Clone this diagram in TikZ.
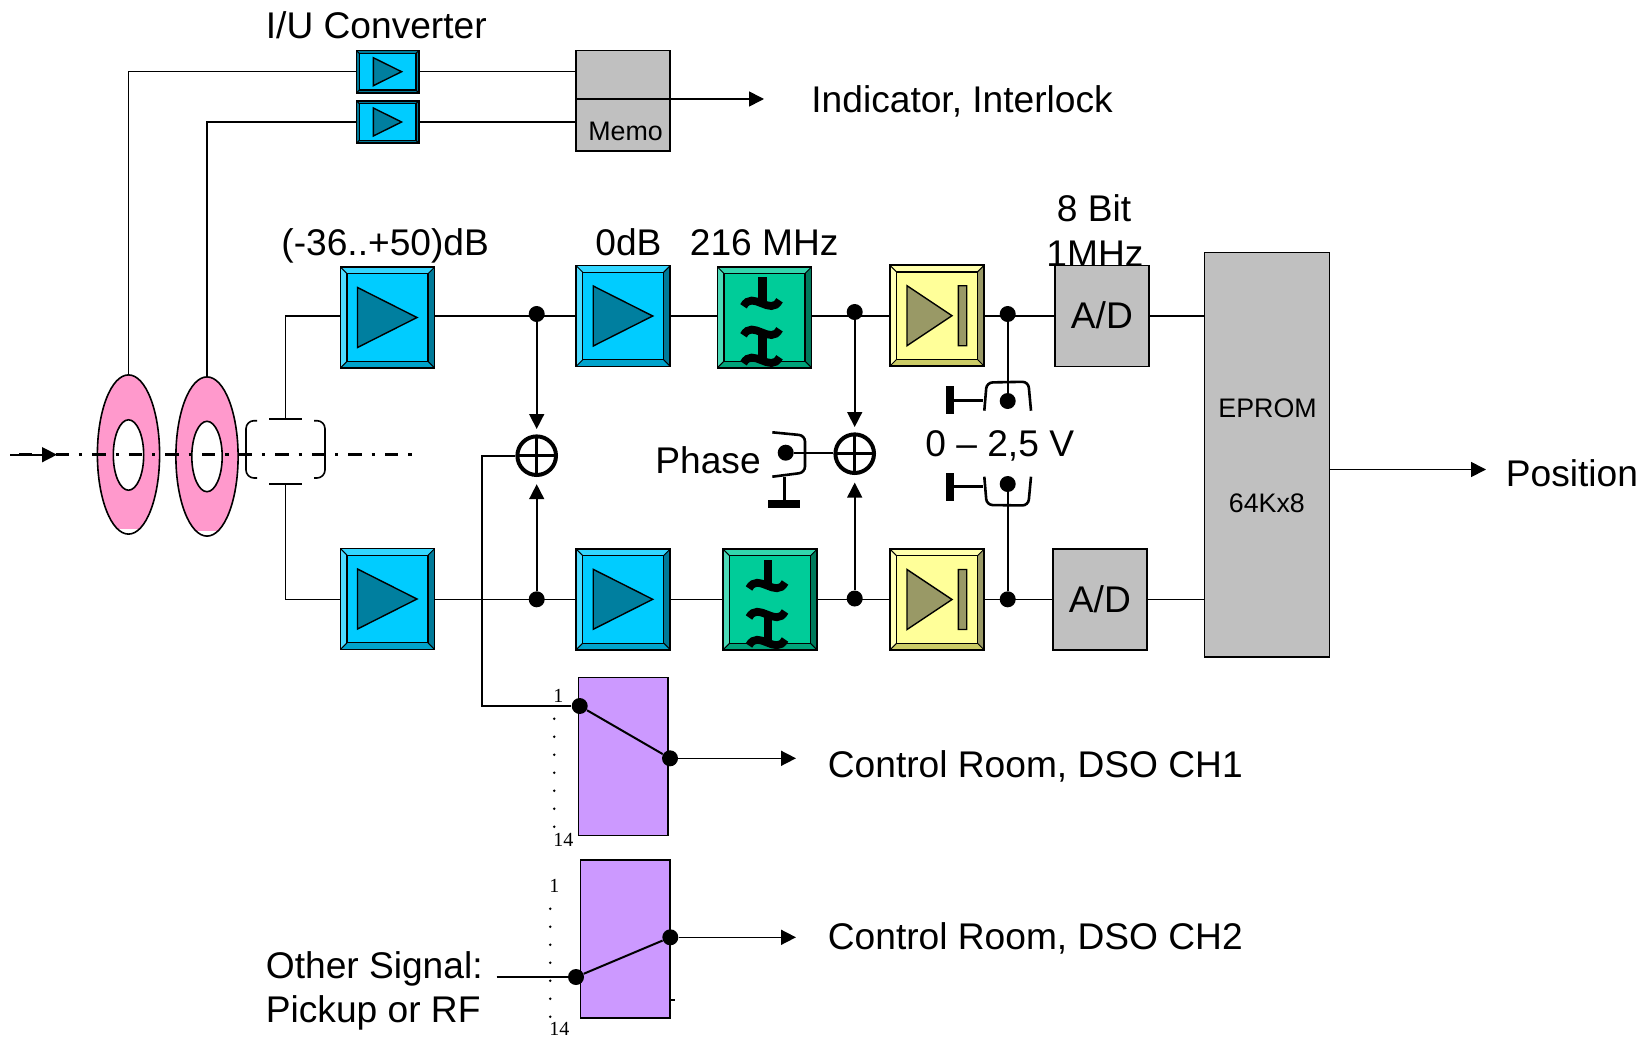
\documentclass[tikz,border=0pt]{standalone}
\usepackage{fontspec}
\setmainfont{Liberation Sans}
\newfontfamily\numfont{Liberation Serif}
\usetikzlibrary{shapes.geometric,arrows.meta,calc}

\definecolor{ampface}{HTML}{00CCFF}
\definecolor{ampleft}{HTML}{4DDBFF}
\definecolor{amptop}{HTML}{33D6FF}
\definecolor{ampright}{HTML}{007A99}
\definecolor{ampbottom}{HTML}{00A3CC}
\definecolor{ampmark}{HTML}{007F9F}
\definecolor{filtface}{HTML}{00CC99}
\definecolor{filtleft}{HTML}{4DDBB8}
\definecolor{filttop}{HTML}{33D6AD}
\definecolor{filtright}{HTML}{007A5C}
\definecolor{filtbottom}{HTML}{00A37A}
\definecolor{detface}{HTML}{FFFF99}
\definecolor{detleft}{HTML}{FFFFB8}
\definecolor{dettop}{HTML}{FFFFAD}
\definecolor{detright}{HTML}{999966}
\definecolor{detbottom}{HTML}{CCCC66}
\definecolor{detmark}{HTML}{999966}
\definecolor{ringpink}{HTML}{FF99CC}
\definecolor{muxviolet}{HTML}{CC99FF}
\definecolor{boxgray}{HTML}{C0C0C0}

\newcommand{\bevelfaces}[5]{%
  \coordinate (bnw) at ([shift={(#5,-#5)}]path picture bounding box.north west);
  \coordinate (bne) at ([shift={(-#5,-#5)}]path picture bounding box.north east);
  \coordinate (bsw) at ([shift={(#5,#5)}]path picture bounding box.south west);
  \coordinate (bse) at ([shift={(-#5,#5)}]path picture bounding box.south east);
  \fill[#1] (path picture bounding box.north west) -- (bnw) -- (bsw) -- (path picture bounding box.south west) -- cycle;
  \fill[#2] (path picture bounding box.north west) -- (bnw) -- (bne) -- (path picture bounding box.north east) -- cycle;
  \fill[#3] (path picture bounding box.north east) -- (bne) -- (bse) -- (path picture bounding box.south east) -- cycle;
  \fill[#4] (path picture bounding box.south west) -- (bsw) -- (bse) -- (path picture bounding box.south east) -- cycle;
  \draw[line width=.6pt] (bnw) rectangle (bse);
  \draw[line width=.5pt] (path picture bounding box.north west) -- (bnw) (path picture bounding box.north east) -- (bne)
    (path picture bounding box.south west) -- (bsw) (path picture bounding box.south east) -- (bse);
}
\newcommand{\filtglyph}{%
  \begin{scope}[shift={(path picture bounding box.center)},x=.5pt,y=-.5pt]
    \fill[black] (-6.5,-40) rectangle (2,-12);
    \fill[black] (-6.5,15) rectangle (2,45);
    \draw[line width=3.9pt] (-21,-11) .. controls (-12,-28) and (6,0) .. (15,-17);
    \draw[line width=3.9pt] (-21,18) .. controls (-12,1) and (6,29) .. (15,12);
    \draw[line width=3.9pt] (-21,46) .. controls (-12,29) and (6,57) .. (15,40);
  \end{scope}}

\tikzset{
  sig/.style={line width=.8pt},
  arr/.style={sig,-{Triangle[length=7.5pt,width=7.5pt]}},
  stem/.style={line width=1.3pt},
  blockbox/.style={draw,line width=.85pt,inner sep=0pt,minimum width=47.1pt,minimum height=50.4pt},
  ampbox/.style={blockbox,fill=ampface,path picture={
    \bevelfaces{ampleft}{amptop}{ampright}{ampbottom}{3.3pt}
    \draw[shift={(path picture bounding box.center)},x=.5pt,y=-.5pt,fill=ampmark,line width=.7pt]
      (-30,-30) -- (29.5,0) -- (-30,30) -- cycle;}},
  iubox/.style={draw,line width=.85pt,inner sep=0pt,fill=ampface,minimum width=31.2pt,minimum height=21.2pt,path picture={
    \bevelfaces{ampright}{ampright}{ampright}{ampright}{1.4pt}
    \draw[shift={(path picture bounding box.center)},x=.5pt,y=-.5pt,fill=ampmark,line width=.7pt]
      (-14.3,-14) -- (14,0) -- (-14.3,14) -- cycle;}},
  filtbox/.style={blockbox,fill=filtface,path picture={
    \bevelfaces{filtleft}{filttop}{filtright}{filtbottom}{3.3pt}
    \filtglyph}},
  detbox/.style={blockbox,fill=detface,path picture={
    \bevelfaces{detleft}{dettop}{detright}{detbottom}{3.3pt}
    \draw[shift={(path picture bounding box.center)},x=.5pt,y=-.5pt,fill=detmark,line width=.7pt]
      (-30,-30) -- (15,0) -- (-30,30) -- cycle (21.3,-30) rectangle (29.7,30);}},
  adbox/.style={blockbox,fill=boxgray},
  muxbox/.style={draw,line width=.85pt,fill=muxviolet,inner sep=0pt,minimum width=44.8pt,minimum height=78.9pt},
  ringnode/.style={ellipse,draw,line width=.8pt,fill=ringpink,inner sep=0pt,minimum width=31.1pt,minimum height=79.6pt,path picture={
    \fill[white] ([yshift=2.6pt]path picture bounding box.south west) rectangle (path picture bounding box.south east);}},
  holenode/.style={ellipse,draw,line width=.8pt,fill=white,inner sep=0pt,minimum width=15.2pt,minimum height=35.2pt},
  jdot/.style={circle,fill=black,inner sep=0pt,minimum size=8pt},
  sumnode/.style={circle,draw,line width=2pt,fill=white,inner sep=0pt,minimum size=19.3pt,path picture={
    \draw[line width=1.6pt] (path picture bounding box.north) -- (path picture bounding box.south)
      (path picture bounding box.west) -- (path picture bounding box.east);}},
  lbl/.style={anchor=base west,inner sep=0pt,font=\fontsize{18.57}{22}\selectfont},
  smalllbl/.style={anchor=base west,inner sep=0pt,font=\fontsize{13.4}{16}\selectfont},
  numlbl/.style={anchor=base west,inner sep=0pt,font=\numfont\fontsize{10}{12}\selectfont},
}

\begin{document}
\begin{tikzpicture}[x=.5pt,y=-.5pt]
  \useasboundingbox (0,0) rectangle (1647,1038);
  \coordinate (row1) at (0,316);
  \coordinate (row2) at (0,599.3);

  %labels
  \node[lbl] (lIU) at (265.5,38.5) {I/U Converter};
  \node[lbl] (lInd) at (811,112.5) {Indicator, Interlock};
  \node[lbl] (lGain) at (281,255) {(-36..+50)dB};
  \node[lbl] (lZero) at (595,255) {0dB};
  \node[lbl] (lFreq) at (689.5,255) {216 MHz};
  \node[lbl] (lBit) at (1056.5,221.5) {8 Bit};
  \node[lbl] (lRate) at (1046,266.5) {1MHz};
  \node[lbl] (lPhase) at (655,473.3) {Phase};
  \node[lbl] (lVolt) at (925,456.7) {0 -- 2,5 V};
  \node[lbl] (lPos) at (1505.5,486) {Position};
  \node[lbl] (lCh1) at (827.5,777) {Control Room, DSO CH1};
  \node[lbl] (lCh2) at (827.5,949.5) {Control Room, DSO CH2};
  \node[lbl] (lOth) at (265.5,978) {Other Signal:};
  \node[lbl] (lPick) at (265.5,1022.5) {Pickup or RF};

  %rings and pickup
  \node[ringnode] (ring1) at (128.5,454.5) {};
  \node[holenode] (hole1) at (128.5,455) {};
  \node[ringnode] (ring2) at (207,456.5) {};
  \node[holenode] (hole2) at (207,456.5) {};
  \coordinate (pickT) at (285.3,418.7);
  \coordinate (pickB) at (285.3,483.7);
  \draw[sig] (269,418.7) -- (302,418.7);
  \draw[sig] (269,483.7) -- (302,483.7);
  \draw[sig,rounded corners=4pt] (257,420.7) -- (246,420.7) -- (246,478) -- (257,478);
  \draw[sig,rounded corners=4pt] (314,420.7) -- (325,420.7) -- (325,478) -- (314,478);

  %beam
  \coordinate (beamL) at (10,454.7);
  \coordinate (beamA) at (57,454.7);
  \coordinate (beamS) at (19,454.7);
  \coordinate (beamE) at (412,454.7);
  \draw[line width=1.35pt,dash pattern=on 6.65pt off 5pt on 1.65pt off 5pt] (beamS) -- (beamE);
  \draw[arr] (beamL) -- (beamA);

  %blocks
  \node[ampbox] (amp1) at (387.5,317.5) {};
  \node[ampbox] (amp2) at (387.5,599) {};
  \node[ampbox] (amp3) at (623.2,316) {};
  \node[ampbox] (amp4) at (623.2,599.3) {};
  \node[filtbox] (filt1) at (764.5,317.3) {};
  \node[filtbox] (filt2) at (770,599.5) {};
  \node[detbox] (det1) at (937,315.7) {};
  \node[detbox] (det2) at (937,599.5) {};
  \node[adbox] (ad1) at (1102,316) {};
  \node[adbox] (ad2) at (1100,599.5) {};
  \node[lbl] (lAd1) at (1070.5,328.3) {A/D};
  \node[lbl] (lAd2) at (1068.5,612.3) {A/D};
  \node[draw,line width=.85pt,fill=boxgray,inner sep=0pt,minimum width=62.6pt,minimum height=202.3pt] (eprom) at (1267,454.8) {};
  \node[smalllbl] (lEprom) at (1218,417) {EPROM};
  \node[smalllbl] (lSize) at (1228.5,512.5) {64Kx8};
  \node[iubox] (iu1) at (387.6,71.7) {};
  \node[iubox] (iu2) at (387.6,122) {};
  \node[draw,line width=.85pt,fill=boxgray,inner sep=0pt,minimum width=46.9pt,minimum height=50.2pt] (memo) at (623,100.6) {};
  \node[smalllbl] (lMemo) at (588,140.5) {Memo};
  \node[muxbox] (mux1) at (623.2,756.5) {};
  \node[muxbox] (mux2) at (625.4,939.2) {};

  %junctions
  \node[jdot] (j1) at (536.7,314) {};
  \node[jdot] (j2) at (536.7,599.3) {};
  \node[jdot] (j3) at (854.7,312) {};
  \node[jdot] (j4) at (854.7,598.5) {};
  \node[jdot] (j5) at (1007.7,314) {};
  \node[jdot] (j6) at (1007.7,599.3) {};
  \node[jdot] (j7) at (1007.7,401) {};
  \node[jdot] (j8) at (1007.7,484) {};
  \node[jdot] (j9) at (785.7,452.7) {};
  \node[sumnode] (sum1) at (536.7,455.7) {};
  \node[sumnode] (sum2) at (854.7,453.7) {};
  \node[jdot] (m1a) at (579.7,706) {};
  \node[jdot] (m1b) at (670,758.3) {};
  \node[jdot] (m2a) at (576,977) {};
  \node[jdot] (m2b) at (670.3,937.3) {};

  %top branch
  \draw[sig] (ring1.north) |- (iu1.west);
  \draw[sig] (ring2.north) |- (iu2.west);
  \draw[sig] (iu1.east) -- (memo.west |- iu1);
  \draw[sig] (iu2.east) -- (memo.west |- iu2);
  \coordinate (div) at (0,99);
  \coordinate (outInd) at (764,99);
  \draw[sig] (memo.west |- div) -- (memo.east |- div);
  \draw[arr] (memo.east |- div) -- (outInd);

  %signal rows
  \draw[sig] (pickT) |- (amp1.west |- row1);
  \draw[sig] (pickB) |- (amp2.west |- row2);
  \draw[sig] (amp1.east |- row1) -- (amp3.west |- row1);
  \draw[sig] (amp2.east |- row2) -- (amp4.west |- row2);
  \draw[sig] (amp3.east |- row1) -- (filt1.west |- row1);
  \draw[sig] (amp4.east |- row2) -- (filt2.west |- row2);
  \draw[sig] (filt1.east |- row1) -- (det1.west |- row1);
  \draw[sig] (filt2.east |- row2) -- (det2.west |- row2);
  \draw[sig] (det1.east |- row1) -- (ad1.west |- row1);
  \draw[sig] (det2.east |- row2) -- (ad2.west |- row2);
  \draw[sig] (ad1.east |- row1) -- (eprom.west |- row1);
  \draw[sig] (ad2.east |- row2) -- (eprom.west |- row2);
  \coordinate (outPos) at (1486,469.5);
  \draw[arr] (eprom.east |- outPos) -- (outPos);

  %sums
  \draw[arr,shorten >=2.7pt] (j1) -- (sum1.north);
  \draw[arr,shorten >=3.6pt] (j2) -- (sum1.south);
  \draw[arr,shorten >=2.7pt] (j3) -- (sum2.north);
  \draw[arr,shorten >=3.8pt] (j4) -- (sum2.south);
  \draw[sig] (j9) -- (sum2.west |- j9);
  \draw[sig] (j5) -- (j7);
  \draw[sig] (j6) -- (j8);

  %pots
  \fill (946,386) rectangle (954,414);
  \draw[stem] (954,400.3) -- (983,400.3);
  \draw[stem,rounded corners=3pt] (984.3,410.7) -- (986.7,382.5) -- (1028.3,381.7) -- (1031,410.7);
  \fill (946,473) rectangle (954,501);
  \draw[stem] (954,486.7) -- (983,486.7);
  \draw[stem,rounded corners=3pt] (984.3,476.7) -- (986.7,505) -- (1028.3,505.5) -- (1031,476.7);
  \fill (768,500) rectangle (799.7,507.7);
  \draw[stem] (784.3,477) -- (784.3,500);
  \draw[stem,rounded corners=3pt] (772.3,432.3) -- (805,435.5) -- (805,472.5) -- (772.3,476.7);

  %switches
  \coordinate (tap) at (482,600);
  \coordinate (tick) at (675,1000);
  \coordinate (othIn) at (496.7,977);
  \coordinate (outCh1) at (796,758.3);
  \coordinate (outCh2) at (796,937.3);
  \draw[sig] (sum1.west) -| (tap) |- (m1a);
  \draw[sig,line width=1pt] (m1a) -- (m1b);
  \draw[sig,line width=1pt] (m2a) -- (m2b);
  \draw[sig] (othIn) -- (m2a);
  \draw[arr] (m1b) -- (outCh1);
  \draw[arr] (m2b) -- (outCh2);
  \draw[sig] (mux2.east |- tick) -- (tick);
  \foreach \n in {0,...,6} {
    \fill (554.3,718.7+18*\n) circle (.7pt);
    \fill (550.3,908.7+18*\n) circle (.7pt);
  }
  \node[numlbl] (n1a) at (553,702) {1};
  \node[numlbl] (n1b) at (553,846) {14};
  \node[numlbl] (n2a) at (549,892) {1};
  \node[numlbl] (n2b) at (549,1035) {14};
\end{tikzpicture}
\end{document}
